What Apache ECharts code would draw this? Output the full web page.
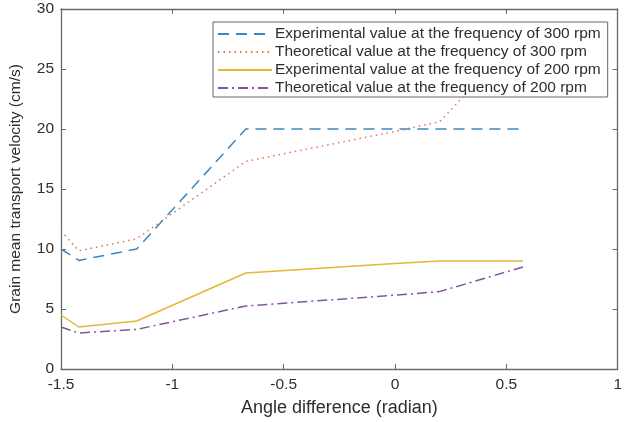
<!DOCTYPE html>
<html>
<head>
<meta charset="utf-8">
<script src="https://cdn.jsdelivr.net/npm/echarts@6/dist/echarts.min.js"></script>
<style>
  * { margin: 0; padding: 0; }
  body { background: #fff; }
  #chart { width: 625px; height: 422px; }
</style>
</head>
<body>
<div id="chart"></div>
<script>
// angle difference (radian) on x
const angleDiff = [-1.5, -1.42, -1.16, -0.67, 0, 0.2, 0.575]
// velocity (cm/s)
const exp300 = [10.0, 9.05, 10.0, 20.0, 20.0, 20.0, 20.0]
const theo300 = [11.5, 9.85, 10.85, 17.3, 19.8, 20.6, 28.0]
const exp200 = [4.5, 3.5, 4.0, 8.0, 8.8, 9.0, 9.0]
const theo200 = [3.5, 3.0, 3.3, 5.25, 6.15, 6.45, 8.5]
const names = [
  'Experimental value at the frequency of 300 rpm',
  'Theoretical value at the frequency of 300 rpm',
  'Experimental value at the frequency of 200 rpm',
  'Theoretical value at the frequency of 200 rpm'
]

const font = 'Liberation Sans, Arial, sans-serif'
const axisColor = '#6a6a6a'
const textColor = '#2e2e2e'

function pairs(ys) {
  return angleDiff.map((x, i) => [x, ys[i]])
}

const chart = echarts.init(document.getElementById('chart'))

const xBase = {
  type: 'value', min: -1.5, max: 1, interval: 0.5,
  axisLine: { onZero: false, lineStyle: { color: axisColor, width: 1.3 } },
  axisTick: { inside: true, length: 5, lineStyle: { color: axisColor } },
  splitLine: { show: false }
}
const yBase = {
  type: 'value', min: 0, max: 30, interval: 5,
  axisLine: { show: true, onZero: false, lineStyle: { color: axisColor, width: 1.3 } },
  axisTick: { show: true, inside: true, length: 5, lineStyle: { color: axisColor } },
  splitLine: { show: false }
}

chart.setOption({
  animation: false,
  textStyle: { fontFamily: font },
  grid: { left: 61, right: 2, top: 9, bottom: 49 },
  legend: {
    orient: 'vertical',
    left: 213, top: 22,
    padding: [3, 7, 0, 4],
    itemGap: 0,
    itemWidth: 54,
    itemHeight: 14,
    backgroundColor: '#fff',
    borderColor: '#666',
    borderWidth: 1,
    borderRadius: 0,
    itemStyle: { opacity: 0 },
    textStyle: { fontSize: 15.5, lineHeight: 18, color: textColor, fontFamily: font, padding: [0, 0, 0, -2] },
    data: names
  },
  xAxis: [
    Object.assign({}, xBase, {
      position: 'bottom',
      name: 'Angle difference (radian)',
      nameLocation: 'middle',
      nameGap: 30,
      nameTextStyle: { fontSize: 18, color: textColor },
      axisLabel: { fontSize: 15.5, color: textColor, margin: 8 }
    }),
    Object.assign({}, xBase, { position: 'top', axisLabel: { show: false } })
  ],
  yAxis: [
    Object.assign({}, yBase, {
      position: 'left',
      name: 'Grain mean transport velocity (cm/s)',
      nameLocation: 'middle',
      nameGap: 37,
      nameTextStyle: { fontSize: 15.5, color: textColor },
      axisLabel: { fontSize: 15.5, color: textColor, margin: 7 }
    }),
    Object.assign({}, yBase, { position: 'right', axisLabel: { show: false } })
  ],
  series: [
    {
      name: names[0], type: 'line', symbol: 'none', data: pairs(exp300),
      lineStyle: { color: '#3d86bf', width: 1.5, type: [11, 7] },
      itemStyle: { color: '#3d86bf' }
    },
    {
      name: names[1], type: 'line', symbol: 'none', data: pairs(theo300),
      lineStyle: { color: '#d8784e', width: 1.5, type: [1.5, 4] },
      itemStyle: { color: '#d8784e' }
    },
    {
      name: names[2], type: 'line', symbol: 'none', data: pairs(exp200),
      lineStyle: { color: '#e6b738', width: 1.5 },
      itemStyle: { color: '#e6b738' }
    },
    {
      name: names[3], type: 'line', symbol: 'none', data: pairs(theo200),
      lineStyle: { color: '#84569a', width: 1.5, type: [10, 4, 2, 4] },
      itemStyle: { color: '#84569a' }
    }
  ]
})
</script>
</body>
</html>
